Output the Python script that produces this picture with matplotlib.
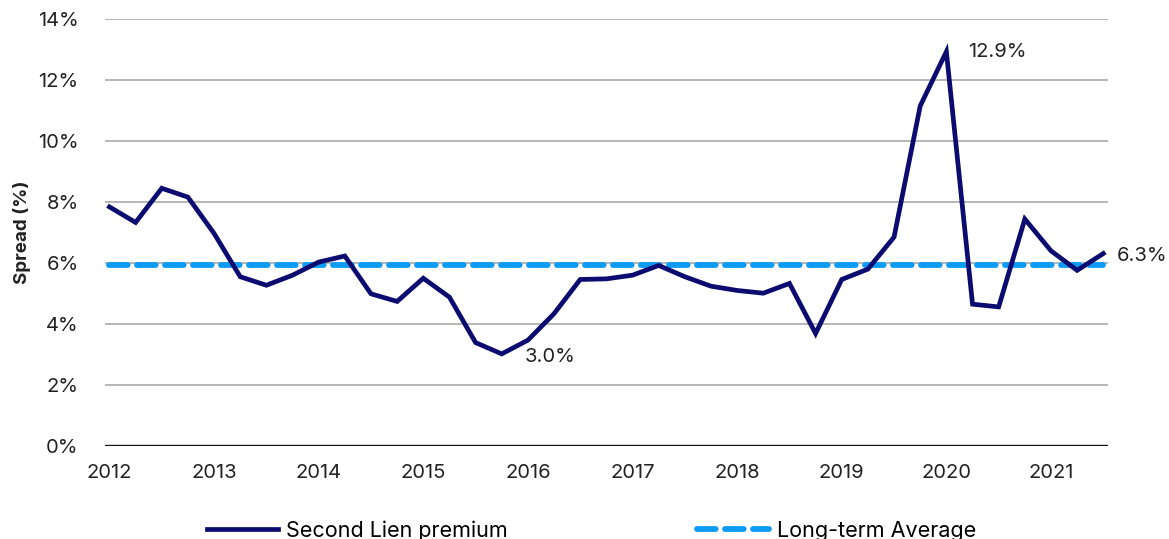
import matplotlib
matplotlib.use("Agg")
import matplotlib.pyplot as plt
from matplotlib.ticker import FuncFormatter

plt.rcParams['font.family'] = ['Inter', 'DejaVu Sans']

years = ['2012', '2013', '2014', '2015', '2016', '2017', '2018', '2019', '2020', '2021']
second_lien = [7.84, 7.33, 8.45, 8.16, 6.97, 5.55, 5.27, 5.60, 6.03, 6.23,
               4.99, 4.74, 5.50, 4.88, 3.39, 3.02, 3.47, 4.34, 5.46,
               5.48, 5.60, 5.92, 5.55, 5.24, 5.10, 5.01, 5.33, 3.69,
               5.46, 5.80, 6.85, 11.15, 12.93, 4.65, 4.56, 7.44, 6.40, 5.76, 6.31]
long_term_avg = 5.92
labels = {32: '12.9%', 15: '3.0%', 38: '6.3%'}
label_offsets = {32: (22, 0), 15: (23, -3), 38: (13, -2)}

navy = '#0B0B70'
light_blue = '#0E9BF5'

fig = plt.figure(figsize=(11.69, 5.39), dpi=100)
ax = fig.add_axes([105/1169, 1-446/539, (1108-105)/1169, (446-19)/539])

x = list(range(len(second_lien)))
ax.plot(x, [long_term_avg]*len(x), color=light_blue, lw=4.2, ls=(0, (3.2, 1.6)),
        dash_capstyle='round', label='Long-term Average', zorder=3)
ax.plot(x, second_lien, color=navy, lw=3.4, solid_joinstyle='miter',
        label='Second Lien premium', zorder=4)

for i, t in labels.items():
    ax.annotate(t, (i, second_lien[i]), xytext=label_offsets[i], textcoords='offset pixels',
                ha='left', va='center', fontsize=14.5, color='#222222')

ax.set_xlim(-0.17, len(x) - 1 + 0.18)
ax.set_ylim(0, 14)
ax.set_yticks(range(0, 15, 2))
ax.yaxis.set_major_formatter(FuncFormatter(lambda v, p: f'{int(v)}%'))
ax.set_xticks(range(0, len(x), 4))
ax.set_xticklabels(years)
ax.grid(axis='y', color='#aaaaaa', lw=1.2)
ax.set_axisbelow(True)
for s in ['top', 'right', 'left', 'bottom']:
    ax.spines[s].set_visible(False)
ax.axhline(0, color='#111111', lw=2.4, zorder=2)
ax.tick_params(axis='both', length=0, labelsize=14.5, colors='#222222')
ax.tick_params(axis='x', pad=13)
ax.tick_params(axis='y', pad=19)
ax.set_ylabel('Spread (%)', fontsize=13.5, fontweight='bold', color='#222222', labelpad=5)

h, l = ax.get_legend_handles_labels()
fig.legend(h[::-1], l[::-1], loc='center', bbox_to_anchor=(0.506, 0.016), ncol=2,
           frameon=False, fontsize=15.5, handlelength=3.3, columnspacing=8.8,
           handletextpad=0.4)

fig.savefig('out.png', dpi=100)
